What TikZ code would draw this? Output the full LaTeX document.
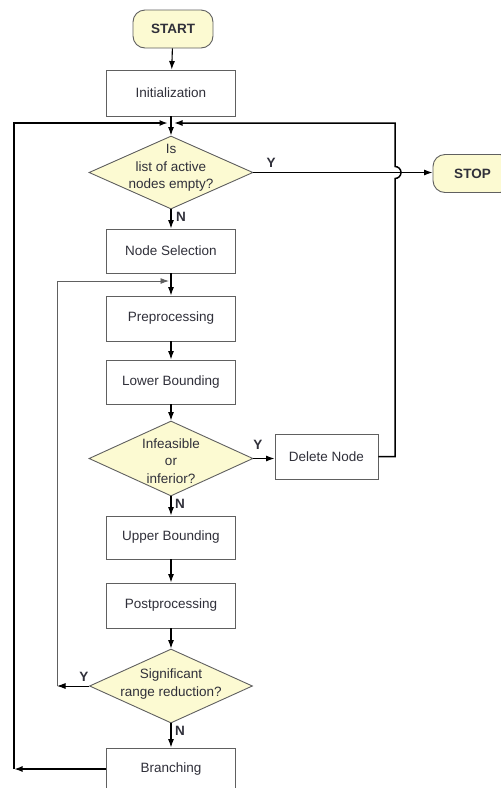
\documentclass[tikz,border=0pt]{standalone}
\usepackage{fontspec}
\setmainfont{Liberation Sans}
\usetikzlibrary{shapes.geometric,arrows.meta}
\definecolor{termfill}{HTML}{FCFAD2}
\definecolor{boxline}{HTML}{606060}
\definecolor{txt}{HTML}{30303A}
\begin{document}
\begin{tikzpicture}[x=1pt,y=-1pt,
  font=\fontsize{13.5}{17.5}\selectfont,
  procbox/.style={draw=boxline,line width=0.9pt,fill=white,minimum width=129pt,minimum height=45pt,inner sep=0pt,text=txt},
  term/.style={draw=boxline,line width=0.9pt,fill=termfill,rounded corners=12pt,minimum width=80pt,minimum height=38pt,inner sep=0pt,text=txt,font=\fontsize{13.5}{17.5}\selectfont\bfseries},
  dec/.style={draw=boxline,line width=0.9pt,fill=termfill,shape=diamond,minimum width=164pt,minimum height=74pt,inner sep=0pt},
  dtxt/.style={align=center,text=txt,inner sep=0pt},
  flow/.style={line width=1.1pt,-{Latex[length=8.5pt,width=6pt]}},
  yn/.style={font=\fontsize{13.5}{17.5}\selectfont\bfseries,inner sep=0pt,text=txt}
]
\useasboundingbox (0,0) rectangle (501,788);
\clip (0,0) rectangle (501,788);
\fill[white] (0,0) rectangle (501,788);

\node[term] (start) at (173,29) {START};
\node[procbox,minimum height=46pt] (init) at (171,93) {Initialization};
\node[dec,minimum height=73pt] (d1) at (171,172.5) {};
\node[dtxt] (d1t) at (171,168) {Is\\list of active\\nodes empty?};
\node[term,minimum width=79pt] (stop) at (472.5,173.5) {STOP};
\node[procbox,minimum height=44pt] (sel) at (171,251) {Node Selection};
\node[procbox] (pre) at (171,318.5) {Preprocessing};
\node[procbox,minimum height=44pt] (lowb) at (171,382) {Lower Bounding};
\node[dec,minimum height=75pt] (d2) at (171,458.5) {};
\node[dtxt] (d2t) at (171,461) {Infeasible\\or\\inferior?};
\node[procbox,minimum width=103pt] (del) at (326.5,456.5) {Delete Node};
\node[procbox,minimum height=43pt] (ub) at (171,537.5) {Upper Bounding};
\node[procbox] (post) at (171,605.5) {Postprocessing};
\node[dec,minimum width=163pt] (d3) at (171,686) {};
\node[dtxt] (d3t) at (171,684) {Significant\\range reduction?};
\node[procbox,minimum height=42pt] (br) at (171,769) {Branching};

\coordinate (m1l) at (168,123);
\coordinate (m1r) at (174,123);
\coordinate (m2) at (169,281);
\coordinate (la) at (14,769);
\coordinate (lt) at (14,123);
\coordinate (ia) at (57,686);
\coordinate (ib) at (57,281);
\coordinate (ra) at (395,456.5);
\coordinate (rb) at (395,123);
\coordinate (jl) at (395,178.5);

\draw[flow] (start) -- (init);
\draw[flow] (init) -- (d1);
\draw[flow] (d1.east) -- (d1.east -| stop.west);
\node[yn] (ly1) at (271,163) {Y};
\draw[flow] (d1) -- (sel);
\node[yn] (ln1) at (181,217) {N};
\draw[flow] (sel) -- (pre);
\draw[flow] (pre) -- (lowb);
\draw[flow] (lowb) -- (d2);
\draw[flow] (d2.east) -- (d2.east -| del.west);
\node[yn] (ly2) at (258,445) {Y};
\draw[flow] (d2) -- (ub);
\node[yn] (ln2) at (180,504) {N};
\draw[flow] (ub) -- (post);
\draw[flow] (post) -- (d3);
\draw[flow] (d3) -- (br);
\node[yn] (ln3) at (180,731) {N};
\node[yn] (ly3) at (84,677) {Y};

\draw[flow,line width=0.9pt] (d3.west) -- (ia);
\draw[flow,line width=0.9pt,draw=boxline] (ia) -- (ib) -- (m2);
\draw[flow,line width=2pt] (br.west) -- (la);
\draw[flow,line width=2pt] (la) -- (lt) -- (m1l);
\draw[flow,line width=1.5pt] (del.east) -- (ra) -- (jl) arc[start angle=-90,end angle=90,radius=6pt] -- (rb) -- (m1r);
\end{tikzpicture}
\end{document}
